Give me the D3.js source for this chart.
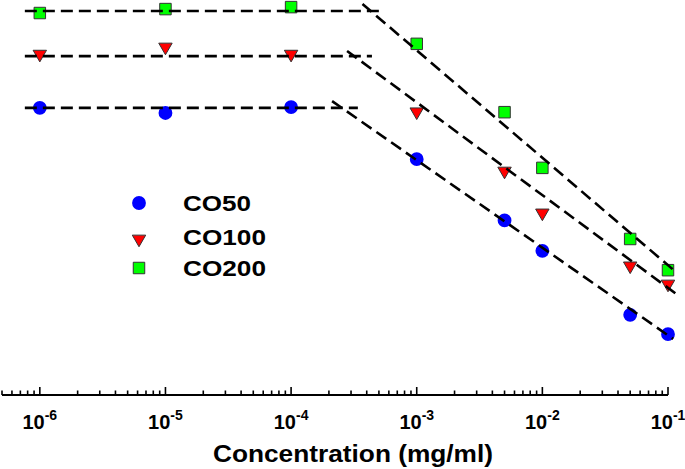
<!DOCTYPE html>
<html>
<head>
<meta charset="utf-8">
<script src="https://cdn.jsdelivr.net/npm/d3@7"></script>
<style>
  html, body { margin: 0; padding: 0; background: #fff; }
  svg { display: block; }
  text { font-family: "Liberation Sans", Arial, Helvetica, sans-serif; font-weight: bold; fill: #000; }
</style>
</head>
<body>
<svg id="chart" width="685" height="469"></svg>
<script>
// ---- data ----
const concentrations = [1e-6, 1e-5, 1e-4, 1e-3, 5e-3, 1e-2, 5e-2, 1e-1];
const co50  = [72.7, 71.4, 72.9, 59.7, 44.2, 36.5, 20.3, 15.4];
const co100 = [86.8, 88.6, 86.8, 72.2, 57.2, 46.6, 33.2, 28.6];
const co200 = [96.7, 97.7, 98.2, 88.9, 71.6, 57.5, 39.5, 31.6];
const seriesNames = ["CO50", "CO100", "CO200"];
const tickLabelExponents = [-6, -5, -4, -3, -2, -1];
const xTitle = "Concentration (mg/ml)";
// fitted lines: [x0, y0, x1, y1]
const plateauFits = [
  [7.6e-7, 72.7, 3.4e-4, 72.7],
  [7.6e-7, 85.8, 4.4e-4, 85.8],
  [7.6e-7, 97.2, 5.3e-4, 97.2]
];
const slopeFits = [
  [2.12e-4, 74.4, 0.110, 14.2],
  [2.79e-4, 87.1, 0.116, 25.6],
  [3.7e-4, 99.0, 0.118, 30.9]
];

// ---- chart ----
const svg = d3.select("#chart");
const x = d3.scaleLog().domain([5e-7, 1e-1]).range([2, 668]);
const y = d3.scaleLinear().domain([0, 100]).range([395, 0]);

const styles = [
  { fill: "#0000ff", stroke: "#0000ff", sym: d3.symbolCircle, size: 150, rot: 0 },
  { fill: "#ff0000", stroke: "#333333", sym: d3.symbolTriangle, size: 78, rot: 180 },
  { fill: "#00ff00", stroke: "#333333", sym: d3.symbolSquare, size: 132, rot: 0 }
];
const allSeries = [co50, co100, co200];

// markers
allSeries.forEach((vals, i) => {
  const st = styles[i];
  const path = d3.symbol().type(st.sym).size(st.size)();
  svg.append("g").selectAll("path")
    .data(vals.map((v, j) => [concentrations[j], v]))
    .join("path")
    .attr("d", path)
    .attr("transform", d => {
      const dy = st.rot ? 2 : 0;
      return `translate(${x(d[0])},${y(d[1]) + dy}) rotate(${st.rot})`;
    })
    .attr("fill", st.fill)
    .attr("stroke", st.stroke)
    .attr("stroke-width", i === 0 ? 0 : 1);
});

// fitted dashed lines (drawn on top)
const line = d3.line().x(d => x(d[0])).y(d => y(d[1]));
plateauFits.concat(slopeFits).forEach(f => {
  svg.append("path")
    .attr("d", line([[f[0], f[1]], [f[2], f[3]]]))
    .attr("fill", "none")
    .attr("stroke", "#000")
    .attr("stroke-width", 2.6)
    .attr("stroke-dasharray", "12,6");
});

// x axis
const axisY = 395;
const ax = svg.append("g");
ax.append("line")
  .attr("x1", x.range()[0]).attr("x2", x.range()[1])
  .attr("y1", axisY).attr("y2", axisY)
  .attr("stroke", "#000").attr("stroke-width", 2);
const ticks = x.ticks();
ticks.forEach(t => {
  const lg = Math.log10(t);
  const major = Math.abs(lg - Math.round(lg)) < 1e-9;
  ax.append("line")
    .attr("x1", x(t)).attr("x2", x(t))
    .attr("y1", axisY).attr("y2", axisY - (major ? 8 : 4.5))
    .attr("stroke", "#000").attr("stroke-width", 1.6);
});
tickLabelExponents.forEach(e => {
  const t = ax.append("text")
    .attr("x", x(Math.pow(10, e)))
    .attr("y", 429)
    .attr("text-anchor", "middle")
    .attr("font-size", 20);
  t.append("tspan").text("10");
  t.append("tspan").attr("font-size", 14).attr("dy", -9).text(String(e));
});

// x title
svg.append("text")
  .attr("x", 213).attr("y", 462)
  .attr("font-size", 23)
  .attr("textLength", 280)
  .attr("lengthAdjust", "spacingAndGlyphs")
  .text(xTitle);

// legend
const legendY = [203, 237, 268];
const legendW = [68, 83, 83];
seriesNames.forEach((name, i) => {
  const st = styles[i];
  svg.append("path")
    .attr("d", d3.symbol().type(st.sym).size(st.size)())
    .attr("transform", `translate(139,${legendY[i] + (st.rot ? 2 : 0)}) rotate(${st.rot})`)
    .attr("fill", st.fill)
    .attr("stroke", st.stroke)
    .attr("stroke-width", i === 0 ? 0 : 1);
  svg.append("text")
    .attr("x", 183).attr("y", legendY[i] + 8)
    .attr("font-size", 22)
    .attr("textLength", legendW[i])
    .attr("lengthAdjust", "spacingAndGlyphs")
    .text(name);
});
</script>
</body>
</html>
